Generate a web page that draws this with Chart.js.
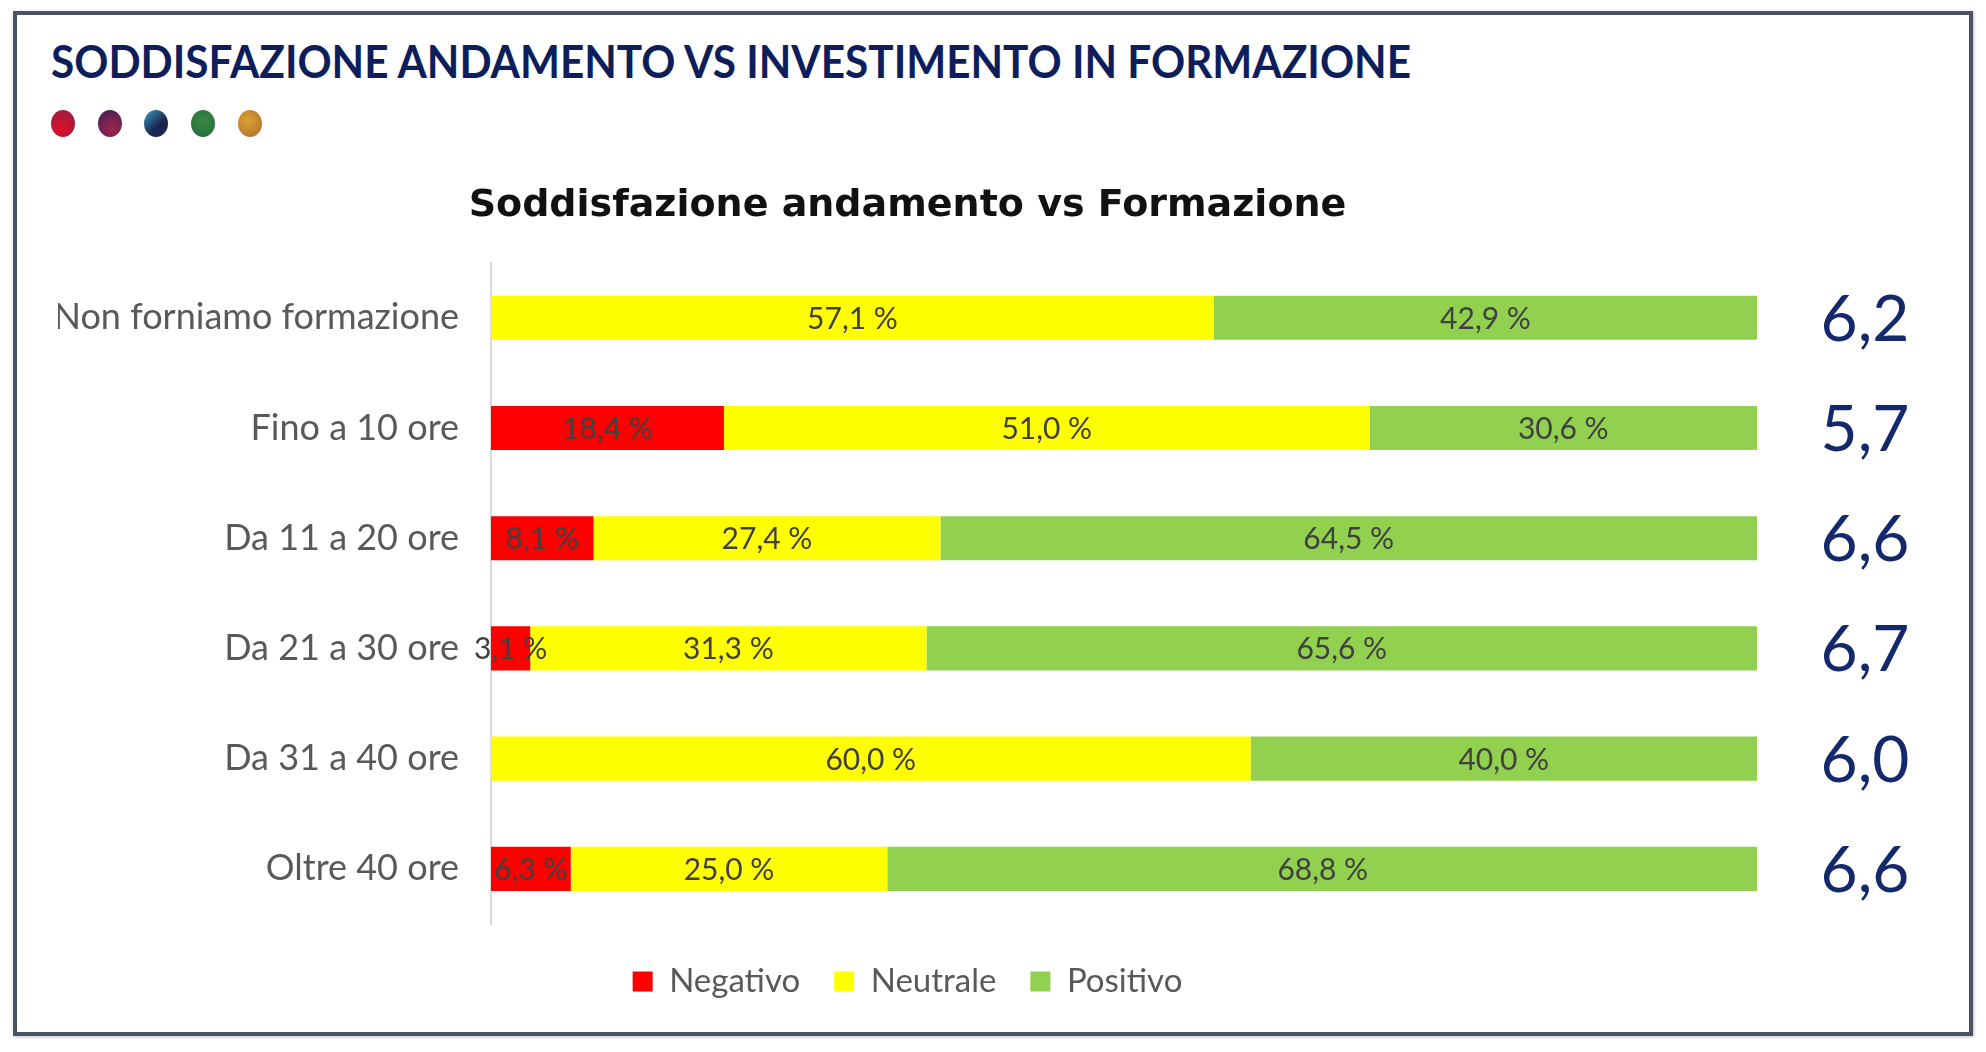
<!DOCTYPE html>
<html>
<head>
<meta charset="utf-8">
<script src="https://cdn.jsdelivr.net/npm/chart.js@4.4.0/dist/chart.umd.min.js"></script>
<style>
    html, body { margin: 0; padding: 0; background: #fff; }
    #wrap { position: relative; width: 1986px; height: 1052px; overflow: hidden; background: #fff; }
    #frame {
        position: absolute; left: 13px; top: 11px; width: 1960px; height: 1025px;
        border: 4px solid #4b5466; box-sizing: border-box;
        box-shadow: 1px 1px 3px rgba(0,0,0,0.25);
    }
    #mainTitle {
        position: absolute; left: 51px; top: 38px; margin: 0;
        font: 700 46px Lato, sans-serif; line-height: 46px; color: #0e1e5b;
        white-space: nowrap; transform-origin: left top;
    }
    .dot { position: absolute; top: 110px; width: 24px; height: 27px; border-radius: 50%; }
    #chart { position: absolute; left: 0; top: 0; }
</style>
</head>
<body>
<div id="wrap">
    <div id="frame"></div>
    <h1 id="mainTitle">SODDISFAZIONE ANDAMENTO VS INVESTIMENTO IN FORMAZIONE</h1>
    <div class="dot" style="left:51px;background:radial-gradient(circle at 40% 70%, #e0102a, #8e1f45);"></div>
    <div class="dot" style="left:98px;background:radial-gradient(circle at 60% 70%, #a0264a, #3b1f55);"></div>
    <div class="dot" style="left:144px;background:linear-gradient(135deg, #3aa0c0, #1c2450 60%);"></div>
    <div class="dot" style="left:191px;background:radial-gradient(circle at 50% 40%, #3a8a45, #22683a);"></div>
    <div class="dot" style="left:238px;background:radial-gradient(circle at 40% 40%, #d9a630, #b0652e);"></div>
    <canvas id="chart" width="1986" height="1052"></canvas>
</div>
<script>
// Dati
const categorie = ['Non forniamo formazione', 'Fino a 10 ore', 'Da 11 a 20 ore', 'Da 21 a 30 ore', 'Da 31 a 40 ore', 'Oltre 40 ore'];
const negativo = [0, 18.4, 8.1, 3.1, 0, 6.3];
const neutrale = [57.1, 51.0, 27.4, 31.3, 60.0, 25.0];
const positivo = [42.9, 30.6, 64.5, 65.6, 40.0, 68.8];
const punteggi = [6.2, 5.7, 6.6, 6.7, 6.0, 6.6];

function formatPercent(v) {
    return v.toFixed(1).replace('.', ',') + ' %';
}

function formatScore(v) {
    return v.toFixed(1).replace('.', ',');
}

// Etichette dentro le barre e punteggio medio a destra
const etichettePlugin = {
    id: 'etichette',
    afterDatasetsDraw(chart) {
        const ctx = chart.ctx;
        ctx.save();
        ctx.textAlign = 'center';
        ctx.textBaseline = 'alphabetic';
        ctx.font = '400 30px Lato';
        ctx.fillStyle = '#404040';
        chart.data.datasets.forEach((ds, i) => {
            chart.getDatasetMeta(i).data.forEach((bar, j) => {
                const v = ds.data[j];
                if (!v) return;
                ctx.fillText(formatPercent(v), (bar.x + bar.base) / 2, bar.y + 11);
            });
        });

        ctx.font = '400 64px Lato';
        ctx.fillStyle = '#14296b';
        const meta = chart.getDatasetMeta(0);
        meta.data.forEach((bar, j) => {
            ctx.fillText(formatScore(punteggi[j]), chart.chartArea.right + 108, bar.y + 23);
        });
        ctx.restore();
    }
};

let formazioneChart;

function setupChart() {
    const ctx = document.getElementById('chart').getContext('2d');

    formazioneChart = new Chart(ctx, {
        type: 'bar',
        data: {
            labels: categorie,
            datasets: [
                { label: 'Negativo', data: negativo, backgroundColor: '#ff0000' },
                { label: 'Neutrale', data: neutrale, backgroundColor: '#ffff00' },
                { label: 'Positivo', data: positivo, backgroundColor: '#92d050' }
            ]
        },
        options: {
            indexAxis: 'y',
            responsive: false,
            animation: false,
            devicePixelRatio: 1,
            datasets: {
                bar: { barPercentage: 0.4, categoryPercentage: 1, borderWidth: 0 }
            },
            layout: {
                padding: { top: 183, left: 58, right: 229, bottom: 44 }
            },
            plugins: {
                title: {
                    display: true,
                    text: 'Soddisfazione andamento vs Formazione',
                    color: '#111111',
                    font: { family: 'DejaVu Sans', size: 38, weight: 'bold' },
                    padding: { top: 0, bottom: 34 }
                },
                legend: {
                    position: 'bottom',
                    labels: {
                        boxWidth: 20,
                        boxHeight: 20,
                        padding: 34,
                        color: '#595959',
                        font: { family: 'Lato', size: 33 }
                    }
                },
                tooltip: { enabled: false }
            },
            scales: {
                x: {
                    stacked: true,
                    min: 0,
                    max: 100,
                    // asse invisibile: lascia solo un piccolo spazio sopra la legenda
                    display: true,
                    grid: { display: false, tickLength: 7 },
                    border: { display: false },
                    ticks: { display: false }
                },
                y: {
                    stacked: true,
                    grid: { display: false, drawTicks: false },
                    border: { display: true, color: '#d9d9d9', width: 2 },
                    ticks: {
                        padding: 32,
                        color: '#595959',
                        font: { family: 'Lato', size: 36 }
                    },
                    afterFit: scale => { scale.width = 491 - 58; }
                }
            }
        },
        plugins: [etichettePlugin]
    });
}

function fitTitle() {
    const el = document.getElementById('mainTitle');
    const w = el.getBoundingClientRect().width;
    el.style.transform = `scaleX(${1360 / w})`;
}

document.addEventListener('DOMContentLoaded', function() {
    fitTitle();
    setupChart();
});
</script>
</body>
</html>
